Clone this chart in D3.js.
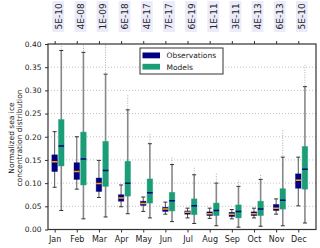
<!DOCTYPE html>
<meta charset="utf-8">
<style>
body { margin: 0; background: #fff; }
text { font-family: "DejaVu Sans", sans-serif; fill: #222; }
</style>
<body>
<svg width="320" height="248"></svg>
<script src="https://cdn.jsdelivr.net/npm/d3@7"></script>
<script>

var months = ["Jan","Feb","Mar","Apr","May","Jun","Jul","Aug","Sep","Oct","Nov","Dec"];
var pvalues = ["5E-10","4E-08","1E-09","6E-18","4E-17","7E-17","6E-19","1E-11","3E-11","4E-13","6E-13","5E-10"];

// [whisker low, q1, median, q3, whisker high]
var obsStats = [
  [0.091, 0.125, 0.146, 0.161, 0.211],
  [0.087, 0.108, 0.125, 0.144, 0.200],
  [0.069, 0.082, 0.099, 0.111, 0.149],
  [0.049, 0.061, 0.068, 0.075, 0.096],
  [0.039, 0.052, 0.056, 0.061, 0.070],
  [0.033, 0.039, 0.044, 0.048, 0.059],
  [0.025, 0.033, 0.037, 0.040, 0.046],
  [0.024, 0.030, 0.034, 0.038, 0.046],
  [0.023, 0.028, 0.033, 0.037, 0.043],
  [0.025, 0.030, 0.034, 0.038, 0.046],
  [0.033, 0.041, 0.046, 0.054, 0.066],
  [0.051, 0.089, 0.106, 0.120, 0.156]
];
var modelStats = [
  [0.041, 0.137, 0.180, 0.237, 0.386],
  [0.023, 0.096, 0.152, 0.210, 0.382],
  [0.027, 0.093, 0.127, 0.190, 0.335],
  [0.034, 0.072, 0.100, 0.147, 0.258],
  [0.025, 0.057, 0.079, 0.109, 0.185],
  [0.017, 0.040, 0.062, 0.080, 0.140],
  [0.013, 0.032, 0.051, 0.066, 0.118],
  [0.008, 0.030, 0.041, 0.057, 0.100],
  [0.005, 0.025, 0.039, 0.053, 0.093],
  [0.007, 0.030, 0.044, 0.061, 0.108],
  [0.008, 0.044, 0.063, 0.088, 0.156],
  [0.014, 0.087, 0.130, 0.179, 0.308]
];
// highest outlier above the model whisker
var modelFlierTop = [0.40, 0.40, 0.40, 0.29, 0.208, 0.157, 0.136, 0.123, 0.107, 0.118, 0.215, 0.355];

var yTicks = [0, 0.05, 0.10, 0.15, 0.20, 0.25, 0.30, 0.35, 0.40];

var svg = d3.select("svg");
var mLeft = 48, mRight = 316, mTop = 44, mBottom = 229.5;

var x = d3.scaleLinear().domain([0.7, 12.8]).range([mLeft, mRight]);
var y = d3.scaleLinear().domain([0, 0.4]).range([mBottom, mTop]);

var obsColor = "#000080", modelColor = "#1b9e77", medObs = "#ffa500", medModel = "#000080";

// grid
svg.append("g").selectAll("line")
  .data(yTicks.slice(1, -1))
  .enter().append("line")
    .attr("x1", mLeft).attr("x2", mRight)
    .attr("y1", function(d) { return y(d); })
    .attr("y2", function(d) { return y(d); })
    .attr("stroke", "#b0b0b0")
    .attr("stroke-width", 0.8)
    .attr("stroke-dasharray", "1,2");

// clip for fliers going past the top
svg.append("defs").append("clipPath").attr("id", "plotclip")
  .append("rect").attr("x", mLeft).attr("y", mTop).attr("width", mRight - mLeft).attr("height", mBottom - mTop);

var plot = svg.append("g").attr("clip-path", "url(#plotclip)");

function drawBoxes(stats, offset, fill, medColor, whiskerColor, whiskerWidth, flier) {
  var hw = (x(1.125) - x(1));
  var g = plot.append("g");
  stats.forEach(function(s, i) {
    var cx = x(i + 1 + offset);
    if (flier) {
      g.append("line")
        .attr("x1", cx).attr("x2", cx)
        .attr("y1", y(s[4]) - 1).attr("y2", y(flier[i]))
        .attr("stroke", "#aaa").attr("stroke-width", 1)
        .attr("stroke-dasharray", "1,1.5");
    }
    g.append("line")
      .attr("x1", cx).attr("x2", cx)
      .attr("y1", y(s[0])).attr("y2", y(s[4]))
      .attr("stroke", whiskerColor).attr("stroke-width", whiskerWidth);
    [s[0], s[4]].forEach(function(v) {
      g.append("line")
        .attr("x1", cx - 2).attr("x2", cx + 2)
        .attr("y1", y(v)).attr("y2", y(v))
        .attr("stroke", "#333").attr("stroke-width", 1);
    });
    g.append("rect")
      .attr("x", cx - hw).attr("width", 2 * hw)
      .attr("y", y(s[3])).attr("height", y(s[1]) - y(s[3]))
      .attr("fill", fill)
      .attr("stroke", fill).attr("stroke-opacity", 0.5).attr("stroke-width", 0.8);
    g.append("line")
      .attr("x1", cx - hw).attr("x2", cx + hw)
      .attr("y1", y(s[2])).attr("y2", y(s[2]))
      .attr("stroke", medColor).attr("stroke-width", 1.5);
  });
}

drawBoxes(obsStats, 0, obsColor, medObs, "#555", 1, null);
drawBoxes(modelStats, 0.3, modelColor, medModel, "#888", 1.6, modelFlierTop);

// frame
svg.append("rect")
  .attr("x", mLeft).attr("y", mTop)
  .attr("width", mRight - mLeft).attr("height", mBottom - mTop)
  .attr("fill", "none").attr("stroke", "#333").attr("stroke-width", 1.2);

// y axis
var yAxis = d3.axisLeft(y).tickValues(yTicks).tickFormat(d3.format(".2f")).tickSize(3).tickPadding(3.5);
var ya = svg.append("g").attr("transform", "translate(" + mLeft + ",0)").call(yAxis);
ya.select(".domain").remove();
ya.selectAll("text").style("font-size", "7.5px").attr("fill", "#222");
ya.selectAll("line").attr("stroke", "#333");

// x axis (bottom)
var xAxis = d3.axisBottom(x).tickValues(d3.range(1, 13)).tickFormat(function(d) { return months[d - 1]; }).tickSize(3).tickPadding(4);
var xa = svg.append("g").attr("transform", "translate(0," + mBottom + ")").call(xAxis);
xa.select(".domain").remove();
xa.selectAll("text").style("font-size", "8px").attr("fill", "#222");
xa.selectAll("line").attr("stroke", "#333");

// top ticks
var xTop = d3.axisTop(x).tickValues(d3.range(1, 13)).tickFormat("").tickSize(3);
var xt = svg.append("g").attr("transform", "translate(0," + mTop + ")").call(xTop);
xt.select(".domain").remove();
xt.selectAll("line").attr("stroke", "#333");

// p-value labels above the plot
var pl = svg.append("g").selectAll("g")
  .data(pvalues)
  .enter().append("g")
    .attr("transform", function(d, i) { return "translate(" + (x(i + 1 + 0.17) + 3.2) + ",29.5) rotate(-90)"; });
pl.append("rect")
  .attr("x", -2.5).attr("y", -9.3)
  .attr("width", 31).attr("height", 11.8)
  .attr("fill", "#ebebfa");
pl.append("text")
  .style("font-size", "9px")
  .text(function(d) { return d; });

// y label
var yl = svg.append("text")
  .attr("transform", "translate(13.5,138) rotate(-90)")
  .attr("text-anchor", "middle")
  .style("font-size", "7.5px");
yl.append("tspan").attr("x", 0).attr("dy", 0).text("Normalized sea ice");
yl.append("tspan").attr("x", 0).attr("dy", "1.15em").text("concentration distribution");

// legend
var lg = svg.append("g").attr("transform", "translate(140,48)");
lg.append("rect").attr("width", 83).attr("height", 26)
  .attr("fill", "#fff").attr("stroke", "#333").attr("stroke-width", 1);
var items = [["Observations", obsColor], ["Models", modelColor]];
items.forEach(function(it, i) {
  lg.append("rect").attr("x", 2.5).attr("y", 4.5 + i * 11.3).attr("width", 17.5).attr("height", 5.8).attr("fill", it[1]);
  lg.append("text").attr("x", 26.5).attr("y", 10.3 + i * 11.3).style("font-size", "7.5px").text(it[0]);
});

</script>
</body>
